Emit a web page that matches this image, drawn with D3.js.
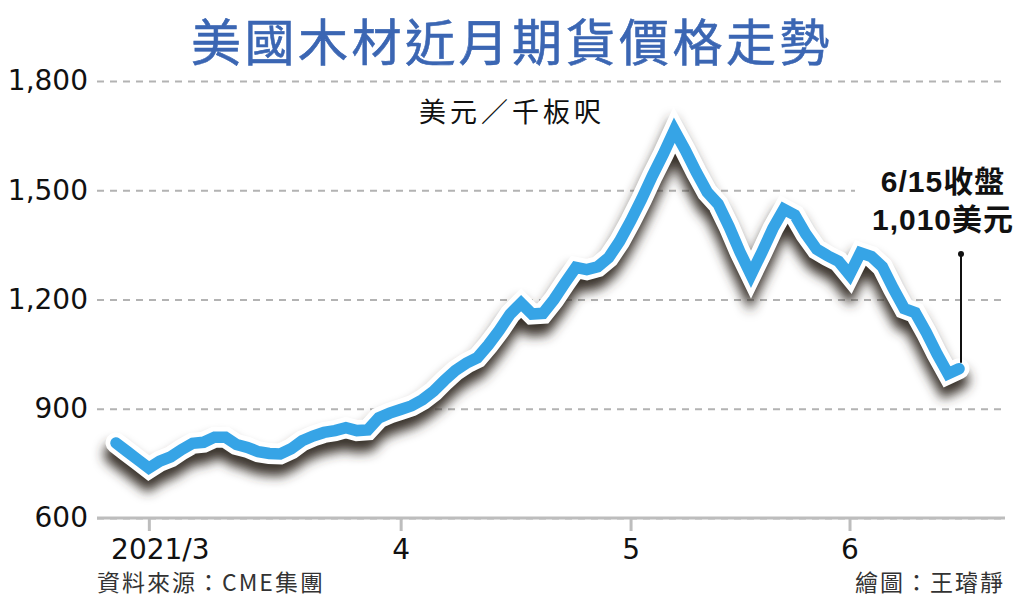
<!DOCTYPE html>
<html>
<head>
<meta charset="utf-8">
<script src="https://cdn.jsdelivr.net/npm/d3@7"></script>
<style>
  body { margin: 0; background: #fff; }
  svg { display: block; }
</style>
</head>
<body>
<div id="chart"></div>
<script>
// trading days, 2021/2/24 - 6/15
const dates = [
  "2021-02-24", "2021-02-25", "2021-02-26",
  "2021-03-01", "2021-03-02", "2021-03-03", "2021-03-04", "2021-03-05",
  "2021-03-08", "2021-03-09", "2021-03-10", "2021-03-11", "2021-03-12",
  "2021-03-15", "2021-03-16", "2021-03-17", "2021-03-18", "2021-03-19",
  "2021-03-22", "2021-03-23", "2021-03-24", "2021-03-25", "2021-03-26",
  "2021-03-29", "2021-03-30", "2021-03-31",
  "2021-04-01", "2021-04-05", "2021-04-06", "2021-04-07", "2021-04-08", "2021-04-09",
  "2021-04-12", "2021-04-13", "2021-04-14", "2021-04-15", "2021-04-16",
  "2021-04-19", "2021-04-20", "2021-04-21", "2021-04-22", "2021-04-23",
  "2021-04-26", "2021-04-27", "2021-04-28", "2021-04-29", "2021-04-30",
  "2021-05-03", "2021-05-04", "2021-05-05", "2021-05-06", "2021-05-07",
  "2021-05-10", "2021-05-11", "2021-05-12", "2021-05-13", "2021-05-14",
  "2021-05-17", "2021-05-18", "2021-05-19", "2021-05-20", "2021-05-21",
  "2021-05-24", "2021-05-25", "2021-05-26", "2021-05-27", "2021-05-28",
  "2021-06-01", "2021-06-02", "2021-06-03", "2021-06-04",
  "2021-06-07", "2021-06-08", "2021-06-09", "2021-06-10", "2021-06-11",
  "2021-06-14", "2021-06-15"
];

// US$ per thousand board feet
const prices = [
  806, 783, 760,
  737, 756, 768, 788, 805,
  808, 822, 822, 802, 794,
  782, 777, 776, 790, 812,
  825, 835, 840, 848, 840,
  842, 875, 888,
  898, 908, 925, 948, 978, 1005,
  1025, 1040, 1075, 1115, 1160,
  1190, 1160, 1162, 1200, 1245,
  1288, 1282, 1290, 1315, 1360,
  1415, 1475, 1540, 1600, 1665,
  1610, 1550, 1495, 1462, 1400,
  1330, 1268, 1330, 1395, 1448,
  1432, 1380, 1338, 1320, 1305,
  1268, 1328, 1318, 1290,
  1230, 1175, 1164, 1110, 1050,
  996, 1010
];

const monthTicks = ["2021-03-01", "2021-04-01", "2021-05-03", "2021-06-01"];
const monthLabels = ["2021/3", "4", "5", "6"];
const priceTicks = [600, 900, 1200, 1500, 1800];

const title = "美國木材近月期貨價格走勢";
const unit = "美元／千板呎";
const source = "資料來源：CME集團";
const credit = "繪圖：王璿靜";
const noteLines = ["6/15收盤", "1,010美元"];

const width = 1024, height = 605;
const plotLeft = 97, plotRight = 1005, plotTop = 81, plotBottom = 518;

const svg = d3.select("#chart")
  .append("svg")
  .attr("width", width)
  .attr("height", height)
  .style("font-family", "'DejaVu Sans', 'Noto Sans CJK TC', sans-serif");

// drop shadow under the line
const filter = svg.append("defs").append("filter")
  .attr("id", "shadow")
  .attr("filterUnits", "userSpaceOnUse")
  .attr("x", 0).attr("y", 0)
  .attr("width", width).attr("height", height);
filter.append("feGaussianBlur").attr("in", "SourceAlpha").attr("stdDeviation", 6);
filter.append("feOffset").attr("dx", -1).attr("dy", 11).attr("result", "blur");
filter.append("feFlood").attr("flood-color", "#3a332c").attr("flood-opacity", 1);
filter.append("feComposite").attr("in2", "blur").attr("operator", "in");

const x = d3.scalePoint()
  .domain(dates)
  .range([116, 959]);

const y = d3.scaleLinear()
  .domain([600, 1800])
  .range([plotBottom, plotTop]);

// title
svg.append("text")
  .attr("x", width / 2)
  .attr("y", 61)
  .attr("text-anchor", "middle")
  .style("font-family", "'Noto Sans CJK TC', sans-serif")
  .style("font-size", "50px")
  .style("font-weight", 400)
  .style("letter-spacing", "3.5px")
  .style("fill", "#3b66b3")
  .style("stroke", "#3b66b3")
  .style("stroke-width", 0.6)
  .text(title);

// y grid + labels
const yAxis = svg.append("g")
  .attr("transform", `translate(${plotLeft},0)`)
  .call(d3.axisLeft(y)
    .tickValues(priceTicks)
    .tickSize(-(plotRight - plotLeft))
    .tickPadding(9)
    .tickFormat(d3.format(",")));
yAxis.select(".domain").remove();
yAxis.selectAll(".tick line")
  .attr("stroke", "#b3b3b3")
  .attr("stroke-width", 2)
  .attr("stroke-dasharray", "7,6");
yAxis.selectAll(".tick text")
  .style("font-family", "'DejaVu Sans', sans-serif")
  .style("font-size", "28px")
  .style("fill", "#111");

// unit label
svg.append("text")
  .attr("x", 512)
  .attr("y", 122)
  .attr("text-anchor", "middle")
  .style("font-family", "'Noto Sans CJK TC', sans-serif")
  .style("font-size", "27px")
  .style("letter-spacing", "4px")
  .style("fill", "#111")
  .text(unit);

// x axis
svg.append("line")
  .attr("x1", plotLeft).attr("x2", plotRight)
  .attr("y1", plotBottom).attr("y2", plotBottom)
  .attr("stroke", "#bdbdbd")
  .attr("stroke-width", 3);

const xAxis = svg.append("g")
  .attr("transform", `translate(0,${plotBottom})`)
  .call(d3.axisBottom(x)
    .tickValues(monthTicks)
    .tickSize(13)
    .tickPadding(8)
    .tickFormat((d, i) => monthLabels[i]));
xAxis.select(".domain").remove();
xAxis.selectAll(".tick line")
  .attr("stroke", "#bdbdbd")
  .attr("stroke-width", 3);
xAxis.selectAll(".tick text")
  .style("font-family", "'DejaVu Sans', sans-serif")
  .style("font-size", "28px")
  .style("fill", "#111")
  .attr("dx", (d, i) => i === 0 ? 11 : 0);

// the price line: shadow, white edge, blue core
const line = d3.line()
  .x((d, i) => x(dates[i]))
  .y(d => y(d));

svg.append("path")
  .datum(prices)
  .attr("d", line)
  .attr("fill", "none")
  .attr("stroke", "#000")
  .attr("stroke-width", 22)
  .attr("stroke-linejoin", "miter")
  .attr("stroke-linecap", "round")
  .attr("filter", "url(#shadow)");

svg.append("path")
  .datum(prices)
  .attr("d", line)
  .attr("fill", "none")
  .attr("stroke", "#fff")
  .attr("stroke-width", 21)
  .attr("stroke-linejoin", "miter")
  .attr("stroke-linecap", "round");

svg.append("path")
  .datum(prices)
  .attr("d", line)
  .attr("fill", "none")
  .attr("stroke", "#36a4e6")
  .attr("stroke-width", 11.5)
  .attr("stroke-linejoin", "miter")
  .attr("stroke-linecap", "round");

// closing note
const lastDate = dates[dates.length - 1];
const lastPrice = prices[prices.length - 1];
const xEnd = x(lastDate);

svg.append("rect")
  .attr("x", xEnd - 104)
  .attr("y", 160)
  .attr("width", 162)
  .attr("height", 78)
  .attr("fill", "#fff");

svg.append("g")
  .selectAll("text")
  .data(noteLines)
  .join("text")
  .attr("x", xEnd - 16)
  .attr("y", (d, i) => 192 + i * 38)
  .attr("text-anchor", "middle")
  .style("font-family", "'Liberation Sans', 'Noto Sans CJK TC', sans-serif")
  .style("font-size", "30px")
  .style("font-weight", "bold")
  .style("letter-spacing", "1px")
  .style("fill", "#111")
  .text(d => d);

svg.append("line")
  .attr("x1", xEnd + 2).attr("x2", xEnd + 2)
  .attr("y1", 254).attr("y2", y(lastPrice) - 6)
  .attr("stroke", "#111")
  .attr("stroke-width", 2);
svg.append("circle")
  .attr("cx", xEnd + 2).attr("cy", 254)
  .attr("r", 3)
  .attr("fill", "#111");

// footer
svg.append("text")
  .attr("x", plotLeft)
  .attr("y", 591)
  .style("font-family", "'Noto Sans CJK TC', sans-serif")
  .style("font-size", "23px")
  .style("letter-spacing", "2px")
  .style("fill", "#333")
  .text(source);

svg.append("text")
  .attr("x", plotRight)
  .attr("y", 591)
  .attr("text-anchor", "end")
  .style("font-family", "'Noto Sans CJK TC', sans-serif")
  .style("font-size", "23px")
  .style("letter-spacing", "2px")
  .style("fill", "#333")
  .text(credit);
</script>
</body>
</html>
